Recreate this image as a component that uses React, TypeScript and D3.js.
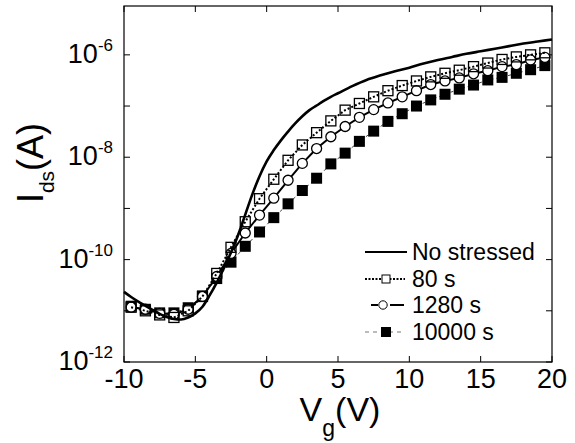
import React from 'react';
import * as d3 from 'd3';

const width = 575;
const height = 443;
const margin = { top: 6, right: 23, bottom: 81, left: 124 };

// gate voltage of the measured points (V)
const vgPoints = [
  -9.5, -8.5, -7.5, -6.5, -5.5, -4.5, -3.5, -2.5, -1.5, -0.5,
  0.5, 1.5, 2.5, 3.5, 4.5, 5.5, 6.5, 7.5, 8.5, 9.5,
  10.5, 11.5, 12.5, 13.5, 14.5, 15.5, 16.5, 17.5, 18.5, 19.5,
];

// log10(Ids) for each stress time
const log80s = [
  -10.93, -11.0, -11.08, -11.13, -11.0, -10.72, -10.27, -9.76, -9.26, -8.81,
  -8.43, -8.06, -7.76, -7.52, -7.29, -7.08, -6.95, -6.82, -6.7, -6.6,
  -6.51, -6.43, -6.36, -6.3, -6.23, -6.16, -6.09, -6.04, -6.0, -5.96,
];
const log1280s = [
  -10.93, -10.97, -11.05, -11.07, -10.97, -10.72, -10.33, -9.88, -9.48, -9.13,
  -8.8, -8.45, -8.12, -7.83, -7.6, -7.4, -7.22, -7.07, -6.94, -6.82,
  -6.7, -6.58, -6.51, -6.45, -6.37, -6.31, -6.23, -6.19, -6.1, -6.05,
];
const log10000s = [
  -10.91, -10.97, -11.04, -11.04, -10.94, -10.71, -10.37, -10.05, -9.74, -9.46,
  -9.18, -8.91, -8.65, -8.41, -8.13, -7.92, -7.69, -7.49, -7.3, -7.15,
  -7.0, -6.88, -6.77, -6.67, -6.59, -6.49, -6.44, -6.36, -6.29, -6.21,
];

// unstressed device, continuous curve
const vgFresh = [
  -10, -9.5, -9, -8.5, -8, -7.5, -7, -6.5, -6, -5.5, -5, -4.5, -4, -3.5, -3, -2.5,
  -2, -1.5, -1, -0.5, 0, 0.5, 1, 1.5, 2, 2.5, 3, 3.5, 4, 4.5, 5, 6, 7, 8, 9, 10,
  11, 12, 13, 14, 15, 16, 17, 18, 19, 20,
];
const logFresh = [
  -10.63, -10.73, -10.82, -10.9, -10.98, -11.06, -11.12, -11.16, -11.17, -11.13,
  -11.05, -10.92, -10.7, -10.45, -10.17, -9.86, -9.52, -9.12, -8.72, -8.37,
  -8.08, -7.86, -7.67, -7.5, -7.34, -7.2, -7.08, -6.99, -6.9, -6.82, -6.75,
  -6.61, -6.49, -6.4, -6.32, -6.25, -6.17, -6.1, -6.04, -5.98, -5.93, -5.88,
  -5.83, -5.78, -5.74, -5.7,
];

const xTicks = [-10, -5, 0, 5, 10, 15, 20];
const yTicks = [1e-12, 1e-11, 1e-10, 1e-9, 1e-8, 1e-7, 1e-6];
const yLabelExps = [-12, -10, -8, -6];
const legendLabels = ['No stressed', '80 s', '1280 s', '10000 s'];

const font = 'Liberation Sans, Arial, Helvetica, sans-serif';

const App = () => {
  const x0 = margin.left;
  const x1 = width - margin.right;
  const y0 = margin.top;
  const y1 = height - margin.bottom;

  const xScale = d3.scaleLinear().domain([-10, 20]).range([x0, x1]);
  const yScale = d3.scaleLog().domain([1e-12, 9e-6]).range([y1, y0]);

  const toPts = (vs, logs) => vs.map((v, i) => [xScale(v), yScale(Math.pow(10, logs[i]))]);

  const smooth = d3.line().curve(d3.curveMonotoneX);
  const straight = d3.line();

  const fresh = toPts(vgFresh, logFresh);
  const p80 = toPts(vgPoints, log80s);
  const p1280 = toPts(vgPoints, log1280s);
  const p10000 = toPts(vgPoints, log10000s);

  const tick = 6;
  const legX = 365;
  const legRows = [252, 279, 305, 332];

  return (
    <svg width={width} height={height} style={{ position: 'absolute', left: 0, top: 0, background: '#fff' }}>
      <rect x={0} y={0} width={width} height={height} fill="#fff" />

      {/* frame */}
      <rect x={x0} y={y0} width={x1 - x0} height={y1 - y0} fill="none" stroke="#000" strokeWidth={1.2} />

      {/* x ticks, inward on bottom and top */}
      {xTicks.map(t => (
        <g key={'xt' + t}>
          <line x1={xScale(t)} x2={xScale(t)} y1={y1} y2={y1 - tick} stroke="#000" />
          <line x1={xScale(t)} x2={xScale(t)} y1={y0} y2={y0 + tick} stroke="#000" />
          <text x={xScale(t)} y={388} textAnchor="middle" fontFamily={font} fontSize={27}>{t}</text>
        </g>
      ))}

      {/* y ticks, inward on left and right */}
      {yTicks.map(t => (
        <g key={'yt' + t}>
          <line x1={x0} x2={x0 + tick} y1={yScale(t)} y2={yScale(t)} stroke="#000" />
          <line x1={x1} x2={x1 - tick} y1={yScale(t)} y2={yScale(t)} stroke="#000" />
        </g>
      ))}
      {yLabelExps.map(e => (
        <text key={'yl' + e} x={113} y={yScale(Math.pow(10, e)) + 8} textAnchor="end" fontFamily={font} fontSize={27}>
          10<tspan dy={-12} fontSize={17}>{e}</tspan>
        </text>
      ))}

      {/* axis titles */}
      <text x={340} y={421} textAnchor="middle" fontFamily={font} fontSize={34}>
        V<tspan dy={15} fontSize={23}>g</tspan><tspan dy={-15}>(V)</tspan>
      </text>
      <text transform="translate(43,163) rotate(-90)" textAnchor="middle" fontFamily={font} fontSize={36}>
        I<tspan dy={11} fontSize={21}>ds</tspan><tspan dy={-11}>(A)</tspan>
      </text>

      {/* 10000 s */}
      <path d={straight(p10000)} fill="none" stroke="#444" strokeWidth={1} strokeDasharray="3,3" />
      {p10000.map((p, i) => (
        <rect key={'s3' + i} x={p[0] - 5.5} y={p[1] - 5.5} width={11} height={11} fill="#000" />
      ))}

      {/* 1280 s */}
      <path d={straight(p1280)} fill="none" stroke="#000" strokeWidth={2} />
      {p1280.map((p, i) => (
        <circle key={'s2' + i} cx={p[0]} cy={p[1]} r={5} fill="#fff" stroke="#000" strokeWidth={1.3} />
      ))}

      {/* 80 s */}
      <path d={straight(p80)} fill="none" stroke="#000" strokeWidth={2} strokeDasharray="2,2" />
      {p80.map((p, i) => (
        <rect key={'s1' + i} x={p[0] - 5} y={p[1] - 5} width={10} height={10} fill="none" stroke="#000" strokeWidth={1.3} />
      ))}

      {/* no stress */}
      <path d={smooth(fresh)} fill="none" stroke="#000" strokeWidth={2.6} />

      {/* legend */}
      <line x1={legX} x2={legX + 42} y1={legRows[0]} y2={legRows[0]} stroke="#000" strokeWidth={2} />
      <line x1={legX} x2={legX + 40} y1={legRows[1]} y2={legRows[1]} stroke="#000" strokeWidth={2} strokeDasharray="2,1.5" />
      <rect x={legX + 17} y={legRows[1] - 4} width={8} height={8} fill="#fff" stroke="#000" strokeWidth={1} />
      <line x1={legX + 6} x2={legX + 13} y1={legRows[2]} y2={legRows[2]} stroke="#000" strokeWidth={2} />
      <line x1={legX + 25} x2={legX + 39} y1={legRows[2]} y2={legRows[2]} stroke="#000" strokeWidth={2} />
      <circle cx={legX + 18} cy={legRows[2]} r={4.2} fill="#fff" stroke="#000" strokeWidth={1} />
      <line x1={legX} x2={legX + 40} y1={legRows[3]} y2={legRows[3]} stroke="#777" strokeWidth={1} strokeDasharray="4,4" />
      <rect x={legX + 16} y={legRows[3] - 5} width={10} height={10} fill="#000" />
      {legendLabels.map((l, i) => (
        <text key={l} x={412} y={legRows[i] + 8} fontFamily={font} fontSize={23}>{l}</text>
      ))}
    </svg>
  );
};

export default App;
